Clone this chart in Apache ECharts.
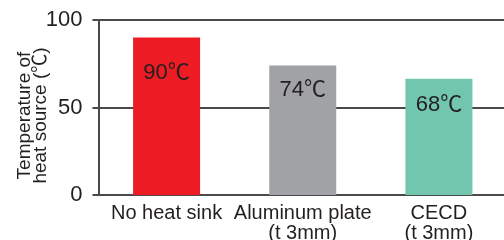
<!DOCTYPE html>
<html>
<head>
<meta charset="utf-8">
<script src="https://cdn.jsdelivr.net/npm/echarts@6/dist/echarts.min.js"></script>
<style>
  html, body { margin: 0; padding: 0; background: #fff; }
  #main { width: 504px; height: 240px; }
</style>
</head>
<body>
<div id="main"></div>
<script>
const categories = ["No heat sink", "Aluminum plate\n(t 3mm)", "CECD\n(t 3mm)"];
const temperatures = [90, 74, 66.5];
const valueLabels = ["90℃", "74℃", "68℃"];
const yTicks = [0, 50, 100];

const barColors = ["#ED1C24", "#A1A2A5", "#72C6AD"];
const labelGap = [24, 13, 15]; // label sits a bit lower in the red bar

const FONT = "'Liberation Sans', 'Noto Sans CJK JP', sans-serif";
const INK = "#231f20";
const LINE = "#4a4a4a";

const chart = echarts.init(document.getElementById("main"), null, { renderer: "canvas" });

const option = {
  animation: false,
  textStyle: { fontFamily: FONT, color: INK },
  grid: { left: 98.5, right: -3, top: 20, bottom: 45, outerBoundsMode: "none", containLabel: false },
  xAxis: {
    type: "category",
    data: categories,
    axisLine: { lineStyle: { color: LINE, width: 2 } },
    axisTick: { show: false },
    axisLabel: { color: INK, fontSize: 20, lineHeight: 20, margin: 8, interval: 0 },
  },
  yAxis: {
    type: "value",
    min: yTicks[0],
    max: yTicks[yTicks.length - 1],
    interval: 50,
    name: "Temperature of\nheat source (℃)",
    nameLocation: "middle",
    nameGap: 50,
    nameMoveOverlap: false,
    nameTextStyle: { color: INK, fontSize: 19, lineHeight: 16, padding: [0, 16, 0, 0] },
    axisLine: { show: true, lineStyle: { color: LINE, width: 2 } },
    axisTick: { show: true, length: 6, lineStyle: { color: LINE, width: 2 } },
    axisLabel: { color: INK, fontSize: 22, margin: 16 },
    splitLine: { show: true, lineStyle: { color: LINE, width: 2 } },
  },
  series: [
    {
      type: "bar",
      barWidth: 67,
      data: temperatures.map((v, i) => ({
        value: v,
        itemStyle: { color: barColors[i] },
        label: {
          show: true,
          position: "insideTop",
          distance: labelGap[i],
          formatter: valueLabels[i],
          color: INK,
          fontSize: 22,
          fontFamily: FONT,
        },
      })),
    },
  ],
};

chart.setOption(option, true);
</script>
</body>
</html>
